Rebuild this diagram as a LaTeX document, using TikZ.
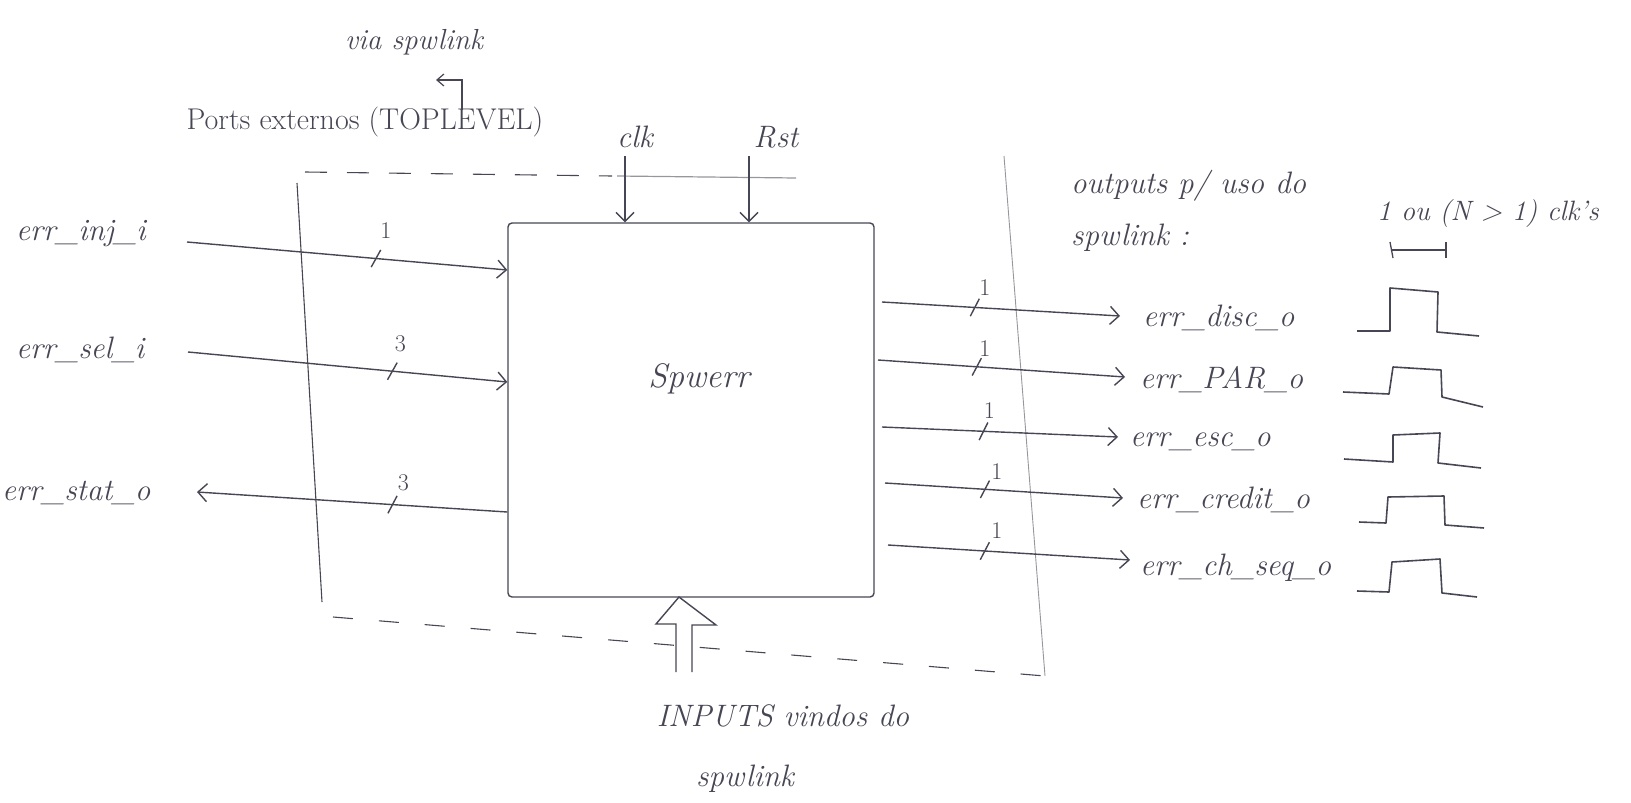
\documentclass[tikz,border=0pt]{standalone}
\usetikzlibrary{arrows.meta,decorations.markings}
\definecolor{pen}{RGB}{70,70,84}
\definecolor{pencil}{RGB}{150,150,156}
\tikzset{
  hw/.style={font=\fontsize{31}{35}\selectfont\itshape, text=pen, inner sep=0pt},
  hwbig/.style={font=\fontsize{34}{38}\selectfont\itshape, text=pen, inner sep=0pt},
  hwsmall/.style={font=\fontsize{24}{28}\selectfont, text=pen, inner sep=0pt},
  wire/.style={draw=pen, line width=1.4pt},
  sig/.style={wire, -{Straight Barb[length=9pt,width=18pt,line width=1.4pt]}},
  busw/.style={postaction={decorate,decoration={markings,mark=at position #1 with {\draw[pen,line width=1.4pt,arrows=-] (-4pt,-9pt)--(4pt,9pt);}}}},
  buslbl/.style={hwsmall},
  dashframe/.style={draw=pen, line width=1.1pt, dash pattern=on 22pt off 20pt},
  pencilline/.style={draw=pencil, line width=0.9pt},
  wave/.style={draw=pen, line width=1.6pt, line join=round},
  blockbox/.style={draw=pen, line width=1.4pt, rounded corners=4pt, inner sep=0pt},
}
\begin{document}
\begin{tikzpicture}[x=1pt,y=-1pt]
\useasboundingbox (0,0) rectangle (1631,803);

% frame of the top level
\draw[dashframe] (305,172) -- (612,176);
\draw[pencilline, line width=1.2pt] (617,176) -- (796,178);
\draw[pen, line width=1.1pt] (297,183) -- (322,602);
\draw[dashframe, dash pattern=on 20pt off 26pt] (333,617) -- (1045,676);
\draw[pencilline] (1004,156) -- (1045,676);

% block
\node[blockbox, minimum width=366pt, minimum height=374pt,
      label={[hwbig, name=spwname, xshift=8pt, yshift=31pt]center:Spwerr}] (spw) at (691,410) {};

% top texts
\node[hw, font=\fontsize{29}{33}\selectfont\itshape] (via) at (414,42) {via spwlink};
\node[hwbig, font=\fontsize{30}{34}\selectfont] (ports) at (365,122) {Ports externos (TOPLEVEL)};
\coordinate (hookA) at (462,110);
\coordinate (hookB) at (436,80);
\draw[wire, -{Straight Barb[length=7pt,width=12pt,line width=1.2pt]}] (hookA) |- (hookB);

% clk and Rst
\node[hw] (clk) at (635,137) {clk};
\node[hw] (rst) at (776,137) {Rst};
\coordinate (clkX) at (625,0);
\coordinate (rstX) at (749,0);
\draw[sig] ([yshift=-8pt]clk.south -| clkX) -- (clkX |- spw.north);
\draw[sig] ([yshift=-8pt]rst.south -| rstX) -- (rstX |- spw.north);

% left side ports
\node[hw, anchor=west] (inj) at (16,234) {err\_inj\_i};
\node[hw, anchor=west] (sel) at (16,350) {err\_sel\_i};
\node[hw, anchor=west] (stat) at (2,493) {err\_stat\_o};
\coordinate (injA) at (187,242);
\coordinate (injB) at (508,270);
\coordinate (selA) at (188,352);
\coordinate (selB) at (508,382);
\coordinate (statA) at (508,512);
\coordinate (statB) at (197,492);
\draw[sig, busw=.59] (injA) -- (spw.west |- injB) node[buslbl, pos=.59, xshift=10pt, yshift=28pt] {1};
\draw[sig, busw=.64] (selA) -- (spw.west |- selB) node[buslbl, pos=.64, xshift=8pt, yshift=27pt] {3};
\draw[sig, busw=.37] (spw.west |- statA) -- (statB) node[buslbl, pos=.37, xshift=11pt, yshift=22pt] {3};

% right side outputs
\node[hw, anchor=west] (disc) at (1143,318) {err\_disc\_o};
\node[hw, anchor=west] (par) at (1140,380) {err\_PAR\_o};
\node[hw, anchor=west] (esc) at (1130,442) {err\_esc\_o};
\node[hw, anchor=west] (credit) at (1137,500) {err\_credit\_o};
\node[hw, anchor=west] (chseq) at (1140,568) {err\_ch\_seq\_o};
\coordinate (o1A) at (882,302); \coordinate (o1B) at (1120,316);
\coordinate (o2A) at (878,360); \coordinate (o2B) at (1125,377);
\coordinate (o3A) at (882,427); \coordinate (o3B) at (1118,437);
\coordinate (o4A) at (885,483); \coordinate (o4B) at (1123,498);
\coordinate (o5A) at (888,545); \coordinate (o5B) at (1130,560);
\draw[sig, busw=.39] (o1A) -- (o1B) node[buslbl, pos=.39, xshift=10pt, yshift=20pt] {1};
\draw[sig, busw=.40] (o2A) -- (o2B) node[buslbl, pos=.40, xshift=8pt, yshift=18pt] {1};
\draw[sig, busw=.43] (o3A) -- (o3B) node[buslbl, pos=.43, xshift=6pt, yshift=21pt] {1};
\draw[sig, busw=.42] (o4A) -- (o4B) node[buslbl, pos=.42, xshift=12pt, yshift=18pt] {1};
\draw[sig, busw=.40] (o5A) -- (o5B) node[buslbl, pos=.40, xshift=12pt, yshift=20pt] {1};

% outputs note
\node[hw, font=\fontsize{31}{52}\selectfont\itshape, align=left, anchor=west] (outs) at (1071,211) {outputs p/ uso do\\spwlink :};
\node[hw, font=\fontsize{28}{32}\selectfont\itshape] (clks) at (1488,214) {1 ou (N > 1) clk's};
\draw[pen, line width=1.3pt] (1392,250) -- (1446,250);
\draw[pen, line width=1.3pt] (1390,242) -- (1393,258);
\draw[pen, line width=1.3pt] (1446,242) -- (1446,258);

% waveforms
\draw[wave] (1357,331) -- (1390,331) -- (1390,288) -- (1438,292) -- (1437,332) -- (1479,336);
\draw[wave] (1343,392) -- (1389,394) -- (1393,367) -- (1441,370) -- (1442,397) -- (1483,407);
\draw[wave] (1344,459) -- (1393,462) -- (1393,435) -- (1440,433) -- (1438,463) -- (1481,468);
\draw[wave] (1359,522) -- (1386,523) -- (1388,497) -- (1444,496) -- (1445,525) -- (1484,528);
\draw[wave] (1357,591) -- (1389,592) -- (1392,562) -- (1440,559) -- (1442,593) -- (1477,597);

% inputs from spwlink (hollow arrow)
\coordinate (bigTip) at (679,597);
\draw[wire, line join=miter] (676,672) -- (676,624) -- (656,624) -- (bigTip) -- (716,625) -- (692,625) -- (692,672);
\node[hw] (inputs) at (783,716) {INPUTS vindos do};
\node[hw] (spwl) at (745,779) {spwlink};
\end{tikzpicture}
\end{document}
